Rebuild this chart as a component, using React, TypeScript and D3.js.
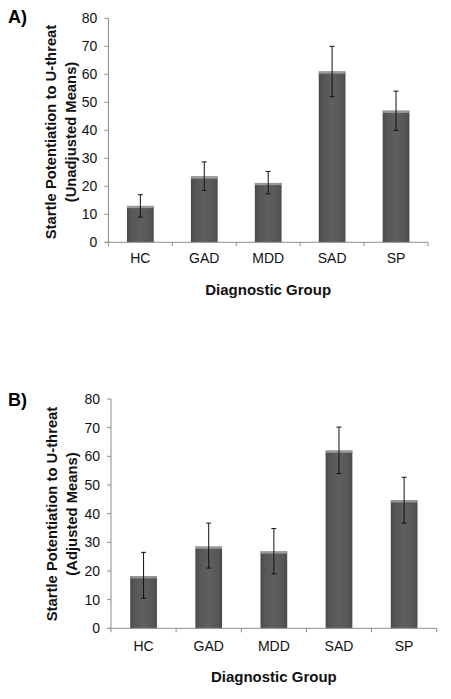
import React from "react";
import * as d3 from "d3";

const categories = ["HC", "GAD", "MDD", "SAD", "SP"];
const meansA = [13, 23.5, 21.2, 61, 47];
const lowA = [9, 18.5, 17.3, 52, 40];
const highA = [17, 28.7, 25.3, 70, 54];
const meansB = [18.2, 28.5, 26.8, 62, 44.7];
const lowB = [10.5, 21, 19, 54, 36.7];
const highB = [26.5, 36.7, 34.8, 70.2, 52.7];
const yTicks = [0, 10, 20, 30, 40, 50, 60, 70, 80];

const FONT = "'Liberation Sans', Arial, sans-serif";

type PanelProps = {
  id: string;
  label: string;
  subtitle: string;
  means: number[];
  low: number[];
  high: number[];
  x0: number;
  x1: number;
  yTop: number;
  yBottom: number;
  labelY: number;
  tickLabelY: number;
  titleY: number;
  yTitleX: number;
  yTitleCY: number;
};

function Panel(p: PanelProps) {
  const x = d3.scaleBand<string>().domain(categories).range([p.x0, p.x1]).paddingInner(0).paddingOuter(0);
  const y = d3.scaleLinear().domain([0, 80]).range([p.yBottom, p.yTop]);
  const bw = 26.7;
  const gid = "grad" + p.id;
  const boundaries = categories.map((c) => x(c)!).concat([p.x1]);
  return (
    <g>
      <defs>
        <linearGradient id={gid} x1="0" y1="0" x2="1" y2="0">
          <stop offset="0" stopColor="#474747" />
          <stop offset="0.12" stopColor="#555555" />
          <stop offset="0.5" stopColor="#5f5f5f" />
          <stop offset="0.88" stopColor="#555555" />
          <stop offset="1" stopColor="#474747" />
        </linearGradient>
      </defs>
      <text x={8} y={p.labelY} fontFamily={FONT} fontWeight="bold" fontSize={18} fill="#000">
        {p.label}
      </text>
      {/* y axis */}
      <line x1={p.x0} x2={p.x0} y1={y(0)} y2={y(80)} stroke="#8c8c8c" strokeWidth={1} />
      {yTicks.map((t) => (
        <g key={t}>
          <line x1={p.x0 - 4} x2={p.x0} y1={y(t)} y2={y(t)} stroke="#8c8c8c" strokeWidth={1} />
          <text x={p.x0 - 11} y={y(t)} dy="0.36em" textAnchor="end" fontFamily={FONT} fontSize={14} fill="#111">
            {t}
          </text>
        </g>
      ))}
      {/* bars */}
      {categories.map((c, i) => {
        const cx = x(c)! + x.bandwidth() / 2;
        const top = y(p.means[i]);
        return (
          <g key={c}>
            <rect x={cx - bw / 2} y={top} width={bw} height={y(0) - top} fill={`url(#${gid})`} />
            <rect x={cx - bw / 2} y={top} width={bw} height={2.2} fill="#9a9a9a" />
            <line x1={cx} x2={cx} y1={y(p.low[i])} y2={y(p.high[i])} stroke="#111" strokeWidth={1} />
            <line x1={cx - 2.5} x2={cx + 2.5} y1={y(p.high[i])} y2={y(p.high[i])} stroke="#111" strokeWidth={1} />
            <line x1={cx - 2.5} x2={cx + 2.5} y1={y(p.low[i])} y2={y(p.low[i])} stroke="#111" strokeWidth={1} />
            <text x={cx} y={p.tickLabelY} textAnchor="middle" fontFamily={FONT} fontSize={14} fill="#111">
              {c}
            </text>
          </g>
        );
      })}
      {/* x axis */}
      <line x1={p.x0 - 3} x2={p.x1} y1={y(0)} y2={y(0)} stroke="#8c8c8c" strokeWidth={1} />
      {boundaries.map((b, i) => (
        <line key={i} x1={b} x2={b} y1={y(0)} y2={y(0) + 4} stroke="#8c8c8c" strokeWidth={1} />
      ))}
      <text x={(p.x0 + p.x1) / 2} y={p.titleY} textAnchor="middle" fontFamily={FONT} fontWeight="bold" fontSize={15} fill="#111">
        Diagnostic Group
      </text>
      <g transform={`translate(${p.yTitleX},${p.yTitleCY}) rotate(-90)`}>
        <text x={0} y={0} dy="0.35em" textAnchor="middle" fontFamily={FONT} fontWeight="bold" fontSize={14.8} fill="#111">
          Startle Potentiation to U-threat
        </text>
        <text x={0} y={19.5} dy="0.35em" textAnchor="middle" fontFamily={FONT} fontWeight="bold" fontSize={14.8} fill="#111">
          {p.subtitle}
        </text>
      </g>
    </g>
  );
}

export default function App() {
  return (
    <svg
      width={451}
      height={699}
      style={{ position: "absolute", left: 0, top: 0, background: "#fff", display: "block" }}
    >
      <rect x={0} y={0} width={451} height={699} fill="#fff" />
      <Panel
        id="A"
        label="A)"
        subtitle="(Unadjusted Means)"
        means={meansA}
        low={lowA}
        high={highA}
        x0={108.4}
        x1={428}
        yTop={18.3}
        yBottom={242.3}
        labelY={22.7}
        tickLabelY={263.3}
        titleY={295}
        yTitleX={51}
        yTitleCY={132}
      />
      <Panel
        id="B"
        label="B)"
        subtitle="(Adjusted Means)"
        means={meansB}
        low={lowB}
        high={highB}
        x0={111}
        x1={436.7}
        yTop={399}
        yBottom={628.3}
        labelY={406}
        tickLabelY={650.7}
        titleY={681.7}
        yTitleX={52}
        yTitleCY={514}
      />
    </svg>
  );
}
